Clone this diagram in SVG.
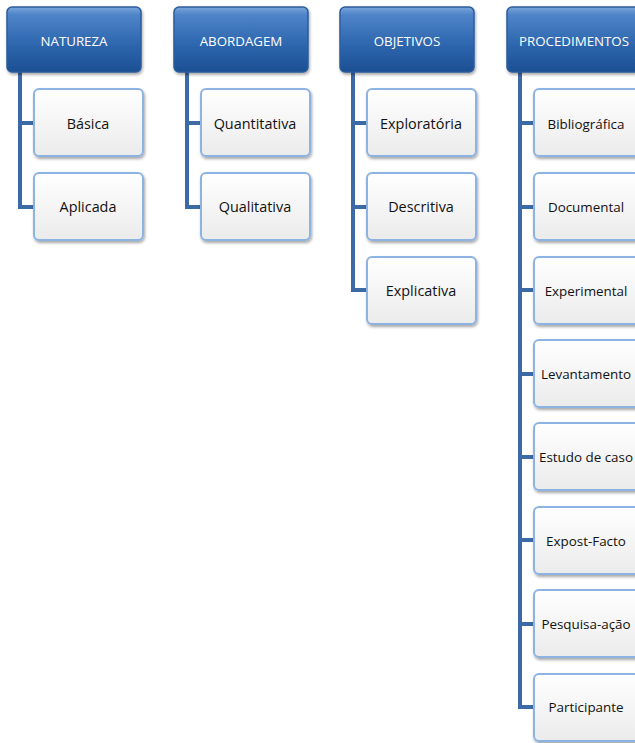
<svg xmlns="http://www.w3.org/2000/svg" width="635" height="743" viewBox="0 0 635 743">
  <defs>
    <linearGradient id="hdrFill" x1="0" y1="0" x2="0" y2="1">
      <stop offset="0" stop-color="#7aa6dc"/>
      <stop offset="0.12" stop-color="#4f84c8"/>
      <stop offset="0.55" stop-color="#2f68b0"/>
      <stop offset="1" stop-color="#1c4f92"/>
    </linearGradient>
    <linearGradient id="childFill" x1="0" y1="0" x2="0" y2="1">
      <stop offset="0" stop-color="#ffffff"/>
      <stop offset="1" stop-color="#ebebeb"/>
    </linearGradient>
    <filter id="shadow" x="-10%" y="-10%" width="130%" height="130%">
      <feGaussianBlur in="SourceAlpha" stdDeviation="1.5"/>
      <feOffset dx="1" dy="2" result="b"/>
      <feComponentTransfer><feFuncA type="linear" slope="0.35"/></feComponentTransfer>
      <feMerge><feMergeNode/><feMergeNode in="SourceGraphic"/></feMerge>
    </filter>
  </defs>
  <style>
    .hdr rect { fill: url(#hdrFill); stroke: #2b5c9c; stroke-width: 1.5; filter: url(#shadow); }
    .hdr text { fill: #ffffff; font-family: "Open Sans", "Liberation Sans", Arial, sans-serif; font-size: 13.3px; text-anchor: middle; }
    .child rect { fill: url(#childFill); stroke: #8db3e2; stroke-width: 2; filter: url(#shadow); }
    .child text { fill: #111111; font-family: "Open Sans", "Liberation Sans", Arial, sans-serif; font-size: 14.4px; text-anchor: middle; }
    .child.narrow text { font-size: 13.4px; }
    .conn path { fill: none; stroke: #3c6aa6; stroke-width: 4; }
  </style>

  <!-- connectors: trunk from each header, branch to each child -->
  <g id="connectors" class="conn">
    <path d="M20,72 V207 H34 M20,123 H34"/>
    <path d="M187,72 V207 H201 M187,123 H201"/>
    <path d="M353,72 V290 H367 M353,123 H367 M353,207 H367"/>
    <path d="M520,72 V707 H534 M520,123 H534 M520,207 H534 M520,290 H534 M520,374 H534 M520,457 H534 M520,540 H534 M520,624 H534"/>
  </g>

  <!-- NATUREZA -->
  <g id="natureza" class="hdr"><rect x="7" y="7" width="134" height="65" rx="5"/><text x="74" y="45.5">NATUREZA</text></g>
  <g id="basica" class="child"><rect x="34" y="89" width="109" height="67" rx="5"/><text x="88" y="128.5">Básica</text></g>
  <g id="aplicada" class="child"><rect x="34" y="173" width="109" height="67" rx="5"/><text x="88" y="211.5">Aplicada</text></g>

  <!-- ABORDAGEM -->
  <g id="abordagem" class="hdr"><rect x="174" y="7" width="134" height="65" rx="5"/><text x="241" y="45.5">ABORDAGEM</text></g>
  <g id="quantitativa" class="child"><rect x="201" y="89" width="109" height="67" rx="5"/><text x="255" y="128.5">Quantitativa</text></g>
  <g id="qualitativa" class="child"><rect x="201" y="173" width="109" height="67" rx="5"/><text x="255" y="211.5">Qualitativa</text></g>

  <!-- OBJETIVOS -->
  <g id="objetivos" class="hdr"><rect x="340" y="7" width="134" height="65" rx="5"/><text x="407" y="45.5">OBJETIVOS</text></g>
  <g id="exploratoria" class="child"><rect x="367" y="89" width="109" height="67" rx="5"/><text x="421" y="128.5">Exploratória</text></g>
  <g id="descritiva" class="child"><rect x="367" y="173" width="109" height="67" rx="5"/><text x="421" y="211.5">Descritiva</text></g>
  <g id="explicativa" class="child"><rect x="367" y="257" width="109" height="67" rx="5"/><text x="421" y="295.5">Explicativa</text></g>

  <!-- PROCEDIMENTOS (boxes run past the right edge, labels kept a little smaller) -->
  <g id="procedimentos" class="hdr"><rect x="507" y="7" width="134" height="65" rx="5"/><text x="574" y="45.5">PROCEDIMENTOS</text></g>
  <g id="bibliografica" class="child narrow"><rect x="534" y="89" width="109" height="67" rx="5"/><text x="586" y="128.5">Bibliográfica</text></g>
  <g id="documental" class="child narrow"><rect x="534" y="173" width="109" height="67" rx="5"/><text x="586" y="211.5">Documental</text></g>
  <g id="experimental" class="child narrow"><rect x="534" y="257" width="109" height="67" rx="5"/><text x="586" y="295.5">Experimental</text></g>
  <g id="levantamento" class="child narrow"><rect x="534" y="340" width="109" height="67" rx="5"/><text x="586" y="378.5">Levantamento</text></g>
  <g id="estudo-de-caso" class="child narrow"><rect x="534" y="423" width="109" height="67" rx="5"/><text x="586" y="461.5">Estudo de caso</text></g>
  <g id="expost-facto" class="child narrow"><rect x="534" y="507" width="109" height="67" rx="5"/><text x="586" y="545.5">Expost-Facto</text></g>
  <g id="pesquisa-acao" class="child narrow"><rect x="534" y="590" width="109" height="67" rx="5"/><text x="586" y="628.5">Pesquisa-ação</text></g>
  <g id="participante" class="child narrow"><rect x="534" y="674" width="109" height="67" rx="5"/><text x="586" y="711.5">Participante</text></g>
</svg>
